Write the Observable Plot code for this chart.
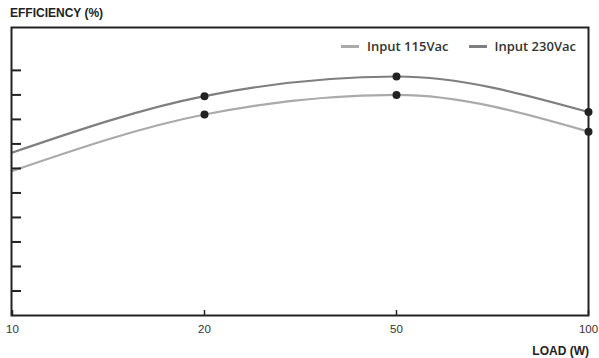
<!DOCTYPE html>
<html>
<head>
<meta charset="utf-8">
<script src="https://cdn.jsdelivr.net/npm/d3@7"></script>
<script src="https://cdn.jsdelivr.net/npm/@observablehq/plot@0.6"></script>
<style>
  html, body { margin: 0; padding: 0; background: #fff; }
  #wrap { position: relative; width: 599px; height: 358px; font-family: "Liberation Sans", Arial, sans-serif; }
  .title { position: absolute; left: 10px; top: 6px; font-size: 12px; font-weight: bold; color: #222; }
  .xlabel { position: absolute; right: 10px; top: 344px; font-size: 12px; font-weight: bold; color: #222; }
  .legend { position: absolute; left: 341px; top: 37px; font-family: "Open Sans", sans-serif; font-weight: 600; font-size: 13px; color: #333; display: flex; align-items: center; }
  .sw { display: inline-block; width: 18px; height: 3px; margin-right: 8px; }
  .item { display: flex; align-items: center; margin-right: 20px; }
</style>
</head>
<body>
<div id="wrap">
  <div id="chart"></div>
  <div class="title">EFFICIENCY (%)</div>
  <div class="xlabel">LOAD (W)</div>
  <div class="legend" id="legend"></div>
</div>
<script>
const loads = ["10", "20", "50", "100"];
const eff115 = [77.8, 82.4, 84.0, 81.0];
const eff230 = [79.3, 83.9, 85.5, 82.6];
const series = ["Input 115Vac", "Input 230Vac"];
const colors = ["#aaaaaa", "#7f7f7f"];
const yTicks = [68, 70, 72, 74, 76, 78, 80, 82, 84, 86];

const rows = [];
loads.forEach((l, i) => {
  rows.push({load: l, eff: eff115[i], s: series[0]});
  rows.push({load: l, eff: eff230[i], s: series[1]});
});
const dots = rows.filter(d => d.load !== "10");

const chart = Plot.plot({
  width: 599,
  height: 358,
  marginLeft: 11,
  marginRight: 11,
  marginTop: 27,
  marginBottom: 43,
  style: {fontFamily: "Liberation Sans, Arial, sans-serif", fontSize: "11px", color: "#333", background: "#fff"},
  x: {type: "point", domain: loads, padding: 0, label: null},
  y: {domain: [66, 89.5], label: null},
  color: {domain: series, range: colors},
  marks: [
    Plot.line(rows, {x: "load", y: "eff", z: "s", stroke: "s", strokeWidth: 2.2, curve: "monotone-x"}),
    Plot.dot(dots, {x: "load", y: "eff", r: 4, fill: "#222", stroke: null}),
    Plot.axisY({ticks: yTicks, tickSize: -10, strokeWidth: 2, stroke: "#222", tickFormat: () => "", label: null}),
    Plot.axisX({tickSize: -5, strokeWidth: 1.5, stroke: "#222", tickFormat: () => "", label: null}),
    Plot.axisX({tickSize: 0, tickPadding: 9, fill: "#333", fontSize: 11.5, label: null}),
    Plot.frame({stroke: "#222", strokeWidth: 2})
  ]
});
document.getElementById("chart").appendChild(chart);

const lg = document.getElementById("legend");
series.forEach((s, i) => {
  const it = document.createElement("span");
  it.className = "item";
  it.innerHTML = `<span class="sw" style="background:${colors[i]}"></span><span>${s}</span>`;
  lg.appendChild(it);
});
</script>
</body>
</html>
